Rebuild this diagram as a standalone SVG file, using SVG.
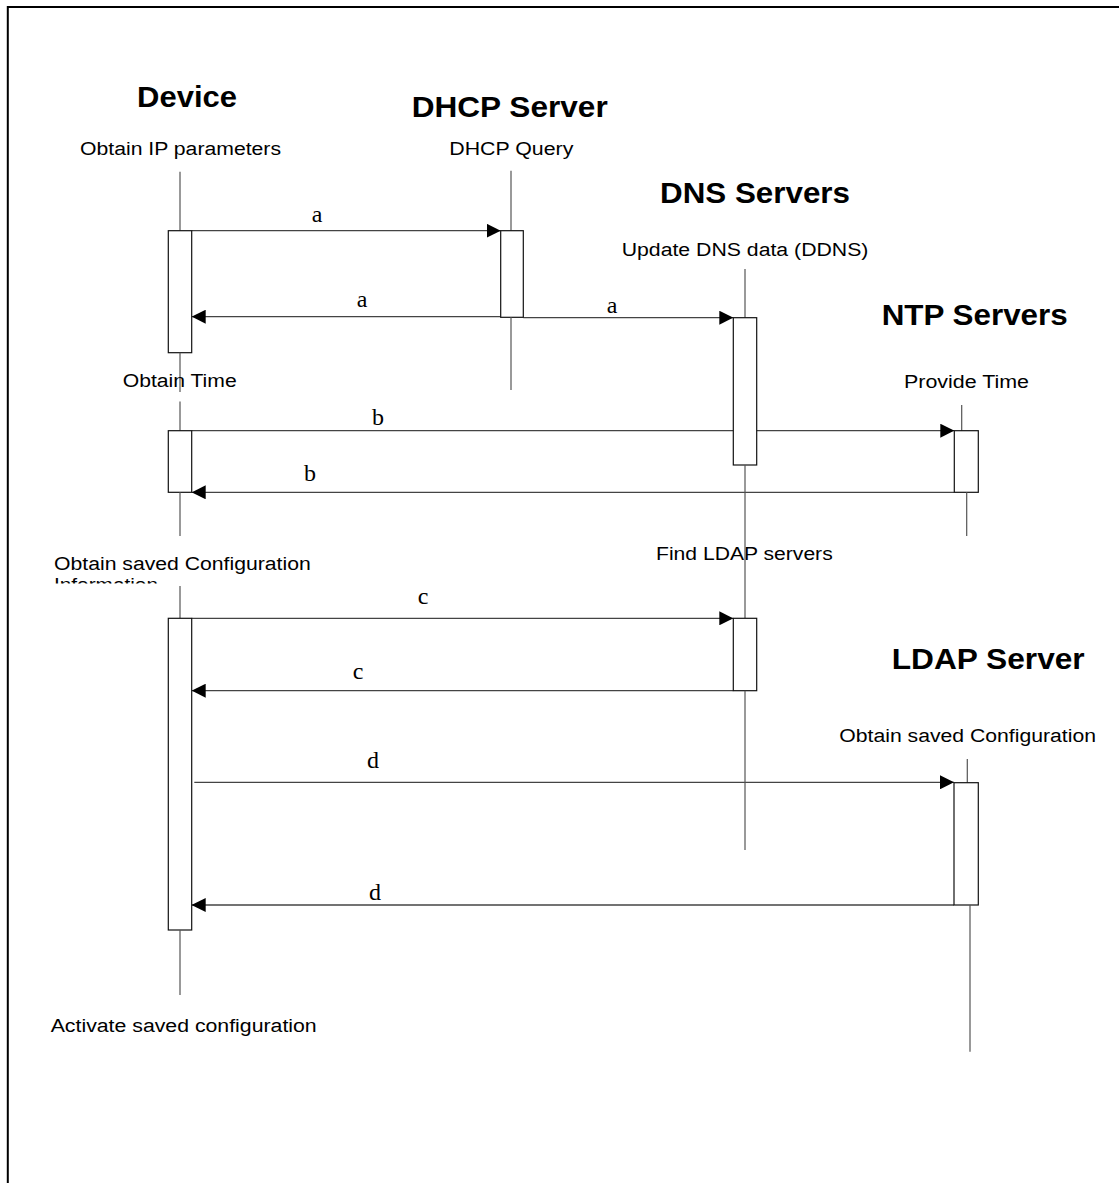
<svg xmlns="http://www.w3.org/2000/svg" width="1119" height="1183" viewBox="0 0 1119 1183">
  <style>
    .title { font-family: "Liberation Sans", Arial, sans-serif; font-weight: bold; font-size: 30px; fill: #000; }
    .note { font-family: "Liberation Sans", Arial, sans-serif; font-size: 18px; fill: #000; }
    .msg { font-family: "Liberation Serif", "Times New Roman", serif; font-size: 24px; fill: #000; text-anchor: middle; }
    .life { stroke: #555; stroke-width: 1.2; fill: none; }
    .act { stroke: #111; stroke-width: 1.2; fill: #fff; }
    .arrow { stroke: #444; stroke-width: 1.3; fill: none; marker-end: url(#head); }
  </style>
  <defs>
    <marker id="head" markerUnits="userSpaceOnUse" markerWidth="14" markerHeight="14" refX="14" refY="7" orient="auto">
      <path d="M0,0 L14,7 L0,14 Z" fill="#000"/>
    </marker>
    <clipPath id="clipInfo">
      <rect x="40" y="560" width="300" height="23.5"/>
    </clipPath>
  </defs>
  <rect width="1119" height="1183" fill="#fff"/>
  <rect x="7.8" y="7" width="1300" height="1400" fill="none" stroke="#000" stroke-width="2"/>

  <g id="connectors">
    <line class="arrow" x1="191.7" y1="230.7" x2="500.7" y2="230.7"/>
    <line class="arrow" x1="500.7" y1="316.7" x2="191.7" y2="316.7"/>
    <line class="arrow" x1="523.3" y1="317.7" x2="733.3" y2="317.7"/>
    <line class="arrow" x1="191.7" y1="430.7" x2="954.3" y2="430.7"/>
    <line class="arrow" x1="954.3" y1="492.3" x2="191.7" y2="492.3"/>
    <line class="arrow" x1="191.7" y1="618.3" x2="733.3" y2="618.3"/>
    <line class="arrow" x1="733.3" y1="690.7" x2="191.7" y2="690.7"/>
    <line class="arrow" x1="194.3" y1="782.3" x2="954" y2="782.3"/>
    <line class="arrow" x1="954" y1="905" x2="191.7" y2="905"/>
    <text class="msg" x="317" y="221.7">a</text>
    <text class="msg" x="362" y="307.3">a</text>
    <text class="msg" x="612" y="313.3">a</text>
    <text class="msg" x="378" y="425">b</text>
    <text class="msg" x="310" y="480.7">b</text>
    <text class="msg" x="423" y="604">c</text>
    <text class="msg" x="358" y="679.3">c</text>
    <text class="msg" x="373" y="768.3">d</text>
    <text class="msg" x="375" y="900">d</text>
  </g>

  <g id="device">
    <text class="title" x="137" y="107" textLength="100" lengthAdjust="spacingAndGlyphs">Device</text>
    <text class="note" x="80" y="155" textLength="201" lengthAdjust="spacingAndGlyphs">Obtain IP parameters</text>
    <line class="life" x1="180" y1="171.7" x2="180" y2="230.7"/>
    <rect class="act" x="168.3" y="230.7" width="23.4" height="122"/>
    <line class="life" x1="180" y1="352.7" x2="180" y2="392"/>
    <line class="life" x1="180" y1="401.5" x2="180" y2="430.7"/>
    <text class="note" x="122.7" y="387.3" textLength="114" lengthAdjust="spacingAndGlyphs">Obtain Time</text>
    <rect class="act" x="168.3" y="430.7" width="23.4" height="61.6"/>
    <line class="life" x1="180" y1="492.3" x2="180" y2="536"/>
    <text class="note" x="54" y="570" textLength="256.7" lengthAdjust="spacingAndGlyphs">Obtain saved Configuration</text>
    <text class="note" x="54" y="591" textLength="104" lengthAdjust="spacingAndGlyphs" clip-path="url(#clipInfo)">Information</text>
    <line class="life" x1="180" y1="586" x2="180" y2="618.3"/>
    <rect class="act" x="168.3" y="618.3" width="23.4" height="311.7"/>
    <line class="life" x1="180" y1="930" x2="180" y2="995"/>
    <text class="note" x="50.7" y="1031.7" textLength="266" lengthAdjust="spacingAndGlyphs">Activate saved configuration</text>
  </g>

  <g id="dhcp-server">
    <text class="title" x="411.7" y="116.7" textLength="196" lengthAdjust="spacingAndGlyphs">DHCP Server</text>
    <text class="note" x="449.3" y="155" textLength="124" lengthAdjust="spacingAndGlyphs">DHCP Query</text>
    <line class="life" x1="511" y1="170.7" x2="511" y2="230.7"/>
    <rect class="act" x="500.7" y="230.7" width="22.6" height="86.6"/>
    <line class="life" x1="511" y1="317.3" x2="511" y2="390"/>
  </g>

  <g id="dns-servers">
    <text class="title" x="660" y="202.7" textLength="190" lengthAdjust="spacingAndGlyphs">DNS Servers</text>
    <text class="note" x="621.7" y="255.7" textLength="246.7" lengthAdjust="spacingAndGlyphs">Update DNS data (DDNS)</text>
    <line class="life" x1="745" y1="269" x2="745" y2="317.7"/>
    <rect class="act" x="733.3" y="317.7" width="23.4" height="147.3"/>
    <text class="note" x="656" y="560" textLength="176.7" lengthAdjust="spacingAndGlyphs">Find LDAP servers</text>
    <line class="life" x1="745" y1="465" x2="745" y2="618.3"/>
    <rect class="act" x="733.3" y="618.3" width="23.4" height="72.4"/>
    <line class="life" x1="745" y1="690.7" x2="745" y2="850"/>
  </g>

  <g id="ntp-servers">
    <text class="title" x="881.7" y="325" textLength="186" lengthAdjust="spacingAndGlyphs">NTP Servers</text>
    <text class="note" x="904" y="388.3" textLength="125" lengthAdjust="spacingAndGlyphs">Provide Time</text>
    <line class="life" x1="961.7" y1="405" x2="961.7" y2="432"/>
    <rect class="act" x="954.3" y="430.7" width="24" height="61.6"/>
    <line class="life" x1="966.7" y1="492.3" x2="966.7" y2="536"/>
  </g>

  <g id="ldap-server">
    <text class="title" x="891.7" y="669" textLength="193" lengthAdjust="spacingAndGlyphs">LDAP Server</text>
    <text class="note" x="839.3" y="742.3" textLength="256.7" lengthAdjust="spacingAndGlyphs">Obtain saved Configuration</text>
    <line class="life" x1="967.3" y1="759" x2="967.3" y2="783"/>
    <rect class="act" x="954" y="782.7" width="24.3" height="122.3"/>
    <line class="life" x1="970" y1="905" x2="970" y2="1051.7"/>
  </g>
</svg>
